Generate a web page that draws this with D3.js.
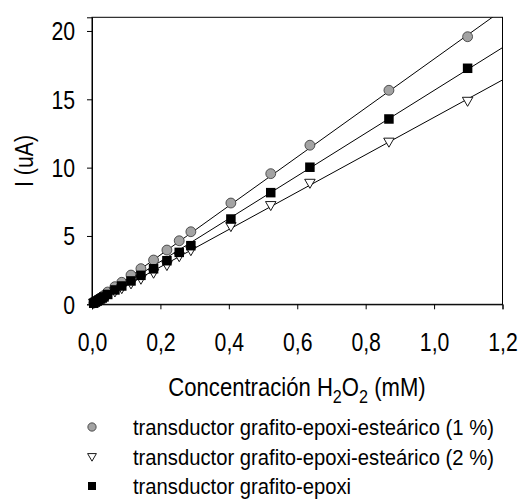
<!DOCTYPE html>
<html><head><meta charset="utf-8">
<script src="https://cdn.jsdelivr.net/npm/d3@7"></script>
<style>
body{margin:0;background:#fff;}
text{font-family:"Liberation Sans Narrow","Arial Narrow","Liberation Sans",Arial,sans-serif;fill:#000;}
</style></head>
<body><svg id="c" width="520" height="500"></svg>
<script>
const concentration = [0.005,0.01,0.015,0.02,0.025,0.03,0.035,0.046,0.067,0.087,0.114,0.143,0.180,0.219,0.255,0.289,0.406,0.5225,0.637,0.868,1.098];
const estearico1 = [0.1,0.19,0.28,0.37,0.46,0.55,0.65,0.9,1.29,1.61,2.14,2.61,3.24,3.97,4.65,5.31,7.41,9.56,11.64,15.66,19.58];
const estearico2 = [0.07,0.14,0.2,0.27,0.34,0.41,0.48,0.62,0.9,1.14,1.49,1.83,2.27,2.83,3.48,3.92,5.68,7.22,8.85,11.86,14.85];
const grafitoEpoxi = [0.08,0.16,0.23,0.31,0.39,0.46,0.54,0.72,1.05,1.34,1.71,2.12,2.6,3.19,3.8,4.29,6.24,8.17,10.03,13.56,17.27];
const fitSlope = [17.92, 13.68, 15.65];
const fitIntercept = [0.03, 0.0, 0.0];
const seriesNames = ["transductor grafito-epoxi-esteárico (1 %)","transductor grafito-epoxi-esteárico (2 %)","transductor grafito-epoxi"];
const xTicks = [0,0.2,0.4,0.6,0.8,1.0,1.2];
const yTicks = [0,5,10,15,20];

const SX = 0.85; // condensed look
const svg = d3.select("#c");
const L=92,R=502.5,T=17.3,B=304.3;
const x = d3.scaleLinear().domain([0,1.2]).range([L,R]);
const y = d3.scaleLinear().domain([0,21]).range([B,T]);

svg.append("defs").append("clipPath").attr("id","clip").append("rect")
  .attr("x",L).attr("y",T).attr("width",R-L).attr("height",B-T);

svg.append("rect").attr("x",L).attr("y",T).attr("width",R-L).attr("height",B-T)
  .attr("fill","none").attr("stroke","#000").attr("stroke-width",1);

const fmt = d => d3.format(".1f")(d).replace(".",",");
const xa = svg.append("g").attr("transform",`translate(0,${B})`)
  .call(d3.axisBottom(x).tickValues(xTicks).tickSize(5).tickFormat(fmt));
const ya = svg.append("g").attr("transform",`translate(${L},0)`)
  .call(d3.axisLeft(y).tickValues(yTicks).tickSize(5).tickFormat(d3.format("d")));
[xa,ya].forEach(a=>{a.select(".domain").attr("stroke","#000");a.selectAll("line").attr("stroke","#000");
  a.selectAll("text").attr("font-size",25).attr("font-family",null).attr("transform",`scale(${SX},1)`);});
xa.selectAll("text").attr("y",47).attr("dy",null);
ya.selectAll("text").attr("x",-17/SX).attr("dy","0.36em");

// axis titles
const xt = svg.append("text").attr("transform",`translate(297,396) scale(${SX},1)`)
  .attr("text-anchor","middle").attr("font-size",26);
xt.append("tspan").text("Concentración H");
xt.append("tspan").text("2").attr("font-size",19).attr("dy",7);
xt.append("tspan").text("O").attr("dy",-7);
xt.append("tspan").text("2").attr("font-size",19).attr("dy",7);
xt.append("tspan").text(" (mM)").attr("dy",-7);
svg.append("text").attr("transform",`translate(33,161) rotate(-90) scale(${SX},1)`).attr("text-anchor","middle")
  .attr("font-size",25).text("I (uA)");

const series = [estearico1, estearico2, grafitoEpoxi];
const g = svg.append("g").attr("clip-path","url(#clip)");
series.forEach((s,i)=>{
  const line = d3.line().x(d=>x(d)).y(d=>y(fitSlope[i]*d+fitIntercept[i]));
  g.append("path").attr("d",line([0,1.2])).attr("fill","none").attr("stroke","#000").attr("stroke-width",1);
});

function marker(sel,i,size){
  if(i===0){ sel.append("circle").attr("r",size*0.52).attr("fill","#a3a3a3").attr("stroke","#333").attr("stroke-width",0.8); }
  else if(i===1){ const h=size*0.95,w=size*1.1;
    sel.append("path").attr("d",`M${-w/2},${-h*0.45}L${w/2},${-h*0.45}L0,${h*0.55}Z`).attr("fill","#fff").attr("stroke","#000").attr("stroke-width",0.9); }
  else { sel.append("rect").attr("x",-size/2).attr("y",-size/2).attr("width",size).attr("height",size).attr("fill","#000"); }
}
[0,1,2].forEach(i=>{
  const s=series[i];
  concentration.forEach((c,k)=>{
    const m = svg.append("g").attr("transform",`translate(${x(c)},${y(s[k])})`);
    marker(m,i,9.5);
  });
});

// legend
const legY=[427,457,486];
const LSX = 0.92;
seriesNames.forEach((n,i)=>{
  const m = svg.append("g").attr("transform",`translate(92,${legY[i]})`);
  marker(m,i,8);
  svg.append("text").attr("transform",`translate(133,${legY[i]}) scale(${LSX},1)`).attr("dy","0.35em")
    .attr("font-size",22).text(n);
});
</script></body></html>
